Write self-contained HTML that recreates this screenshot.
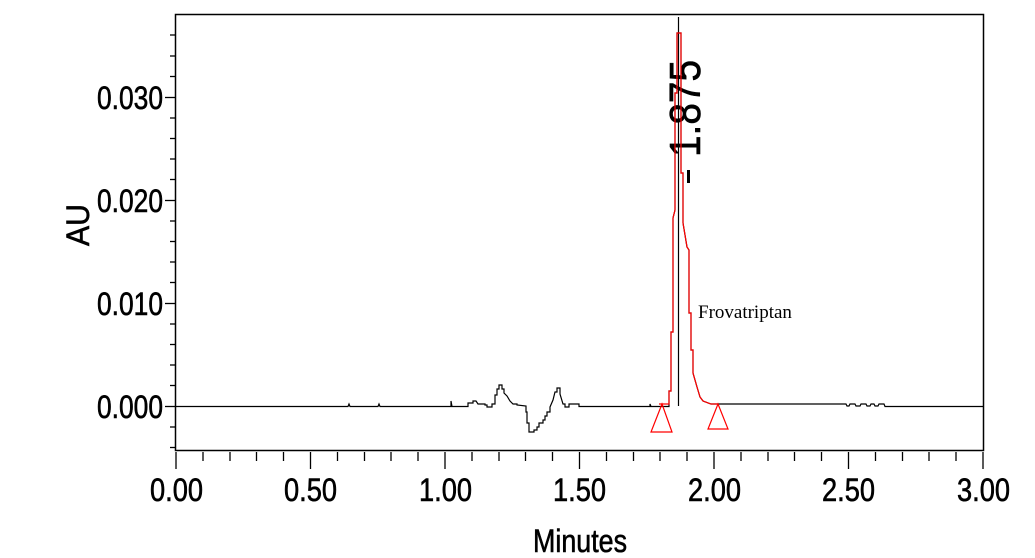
<!DOCTYPE html>
<html><head><meta charset="utf-8"><style>
html,body{margin:0;padding:0;background:#fff;}
svg{display:block;}
</style></head><body>
<svg width="1035" height="558" viewBox="0 0 1035 558" xmlns="http://www.w3.org/2000/svg">
<rect width="1035" height="558" fill="#fff"/>
<rect x="175.5" y="14.5" width="808" height="436" fill="none" stroke="#000" stroke-width="1.5"/>
<g stroke="#000" stroke-width="1.3">
<line x1="165" y1="97.5" x2="175" y2="97.5"/>
<line x1="165" y1="200.5" x2="175" y2="200.5"/>
<line x1="165" y1="303.5" x2="175" y2="303.5"/>
<line x1="165" y1="406.5" x2="175" y2="406.5"/>
<line x1="170" y1="35" x2="175" y2="35"/>
<line x1="170" y1="56" x2="175" y2="56"/>
<line x1="170" y1="76.5" x2="175" y2="76.5"/>
<line x1="170" y1="118" x2="175" y2="118"/>
<line x1="170" y1="138.5" x2="175" y2="138.5"/>
<line x1="170" y1="159" x2="175" y2="159"/>
<line x1="170" y1="179.5" x2="175" y2="179.5"/>
<line x1="170" y1="221" x2="175" y2="221"/>
<line x1="170" y1="241.5" x2="175" y2="241.5"/>
<line x1="170" y1="262" x2="175" y2="262"/>
<line x1="170" y1="282.5" x2="175" y2="282.5"/>
<line x1="170" y1="324" x2="175" y2="324"/>
<line x1="170" y1="344.5" x2="175" y2="344.5"/>
<line x1="170" y1="365" x2="175" y2="365"/>
<line x1="170" y1="385.5" x2="175" y2="385.5"/>
<line x1="170" y1="427" x2="175" y2="427"/>
<line x1="170" y1="447.5" x2="175" y2="447.5"/>
</g>
<g font-family="Liberation Sans, Arial, sans-serif" font-size="32" fill="#000" stroke="#000" stroke-width="0.6">
<text x="163" y="109" text-anchor="end" textLength="66" lengthAdjust="spacingAndGlyphs">0.030</text>
<text x="163" y="212" text-anchor="end" textLength="66" lengthAdjust="spacingAndGlyphs">0.020</text>
<text x="163" y="315" text-anchor="end" textLength="66" lengthAdjust="spacingAndGlyphs">0.010</text>
<text x="163" y="418" text-anchor="end" textLength="66" lengthAdjust="spacingAndGlyphs">0.000</text>
<text x="150" y="501" textLength="53" lengthAdjust="spacingAndGlyphs">0.00</text>
<text x="284" y="501" textLength="53" lengthAdjust="spacingAndGlyphs">0.50</text>
<text x="419" y="501" textLength="53" lengthAdjust="spacingAndGlyphs">1.00</text>
<text x="553" y="501" textLength="53" lengthAdjust="spacingAndGlyphs">1.50</text>
<text x="688" y="501" textLength="53" lengthAdjust="spacingAndGlyphs">2.00</text>
<text x="822" y="501" textLength="53" lengthAdjust="spacingAndGlyphs">2.50</text>
<text x="957" y="501" textLength="53" lengthAdjust="spacingAndGlyphs">3.00</text>
<text x="580" y="552" text-anchor="middle" textLength="94" lengthAdjust="spacingAndGlyphs">Minutes</text>
<text transform="translate(89,225) rotate(-90)" text-anchor="middle" textLength="42" lengthAdjust="spacingAndGlyphs">AU</text>
<text transform="translate(700,157) rotate(-90)" font-size="44" textLength="97" lengthAdjust="spacingAndGlyphs">1.875</text>
</g>
<line x1="688.5" y1="170" x2="688.5" y2="183" stroke="#000" stroke-width="3"/>
<text x="698" y="318" font-family="Liberation Serif, serif" font-size="19" fill="#000">Frovatriptan</text>
<!-- black trace -->
<polyline fill="none" stroke="#000" stroke-width="1.2" points="176,406.5 348,406.5 349,404 350,406.5 378,406.5 379,404 380,406.5 451,406.5 451,401 452,406.5 468,406.5 468,403 473,403 473,401 476,401 478,404 485,404 485,405 487,405 487,407 492,407 492,404 495,404 495,395 497,395 497,389 499,389 499,385 502,385 502,389 504,389 504,393 507,396 510,401 513,404 517,404 517,405 526,406 526,412 527,412 527,423 529,423 529,432 534,432 534,430 537,430 537,427 539,427 539,423 543,423 543,420 545,420 545,416 547,416 547,412 550,412 550,407 553,400 553,400 555,392 557,392 557,388 560,388 560,394 563,404 565,404 565,407 569,407 569,404 579,404 579,406.5 650,406.5 650,404 651,406.5 669,406.5 669,391 671,391 671,332 673,332 673,218 675,210 675,93 677,93 677,33 681,33 681,173 683,173 683,223 687,247 689,250 689,313 691,313 691,350 693,350 693,373 697,387 700,397 703,401 711,404 720,404 846,404 847,406 849,406 850,404 855,404 856,406 860,406 861,404 866,404 867,406 870,406 871,404 874,404 875,406 878,406 879,404 884,404 885,406.5 983,406.5"/>
<line x1="678.5" y1="17" x2="678.5" y2="406" stroke="#000" stroke-width="1.2"/>
<!-- red -->
<polyline fill="none" stroke="#f00" stroke-width="1.2" points="659,404 669,404 669,391 671,391 671,332 673,332 673,218 675,210 675,93 677,93 677,33 681,33 681,173 683,173 683,223 687,247 689,250 689,313 691,313 691,350 693,350 693,373 697,387 700,397 703,401 711,404 718,404"/>
<polygon points="662,404 651,432 672,432" fill="none" stroke="#f00" stroke-width="1.2"/>
<polygon points="718,404 708,429 728,429" fill="none" stroke="#f00" stroke-width="1.2"/>
<g stroke="#000" stroke-width="1.3">
<line x1="176" y1="452" x2="176" y2="469"/>
<line x1="310.5" y1="452" x2="310.5" y2="469"/>
<line x1="445" y1="452" x2="445" y2="469"/>
<line x1="579.5" y1="452" x2="579.5" y2="469"/>
<line x1="714" y1="452" x2="714" y2="469"/>
<line x1="848.5" y1="452" x2="848.5" y2="469"/>
<line x1="983" y1="452" x2="983" y2="469"/>
<line x1="203" y1="452" x2="203" y2="461"/><line x1="230" y1="452" x2="230" y2="461"/><line x1="256.5" y1="452" x2="256.5" y2="461"/><line x1="283.5" y1="452" x2="283.5" y2="461"/>
<line x1="337.5" y1="452" x2="337.5" y2="461"/><line x1="364.5" y1="452" x2="364.5" y2="461"/><line x1="391" y1="452" x2="391" y2="461"/><line x1="418" y1="452" x2="418" y2="461"/>
<line x1="472" y1="452" x2="472" y2="461"/><line x1="499" y1="452" x2="499" y2="461"/><line x1="525.5" y1="452" x2="525.5" y2="461"/><line x1="552.5" y1="452" x2="552.5" y2="461"/>
<line x1="606.5" y1="452" x2="606.5" y2="461"/><line x1="633.5" y1="452" x2="633.5" y2="461"/><line x1="660" y1="452" x2="660" y2="461"/><line x1="687" y1="452" x2="687" y2="461"/>
<line x1="741" y1="452" x2="741" y2="461"/><line x1="768" y1="452" x2="768" y2="461"/><line x1="794.5" y1="452" x2="794.5" y2="461"/><line x1="821.5" y1="452" x2="821.5" y2="461"/>
<line x1="875.5" y1="452" x2="875.5" y2="461"/><line x1="902.5" y1="452" x2="902.5" y2="461"/><line x1="929" y1="452" x2="929" y2="461"/><line x1="956" y1="452" x2="956" y2="461"/>
</g>
</svg>
</body></html>
